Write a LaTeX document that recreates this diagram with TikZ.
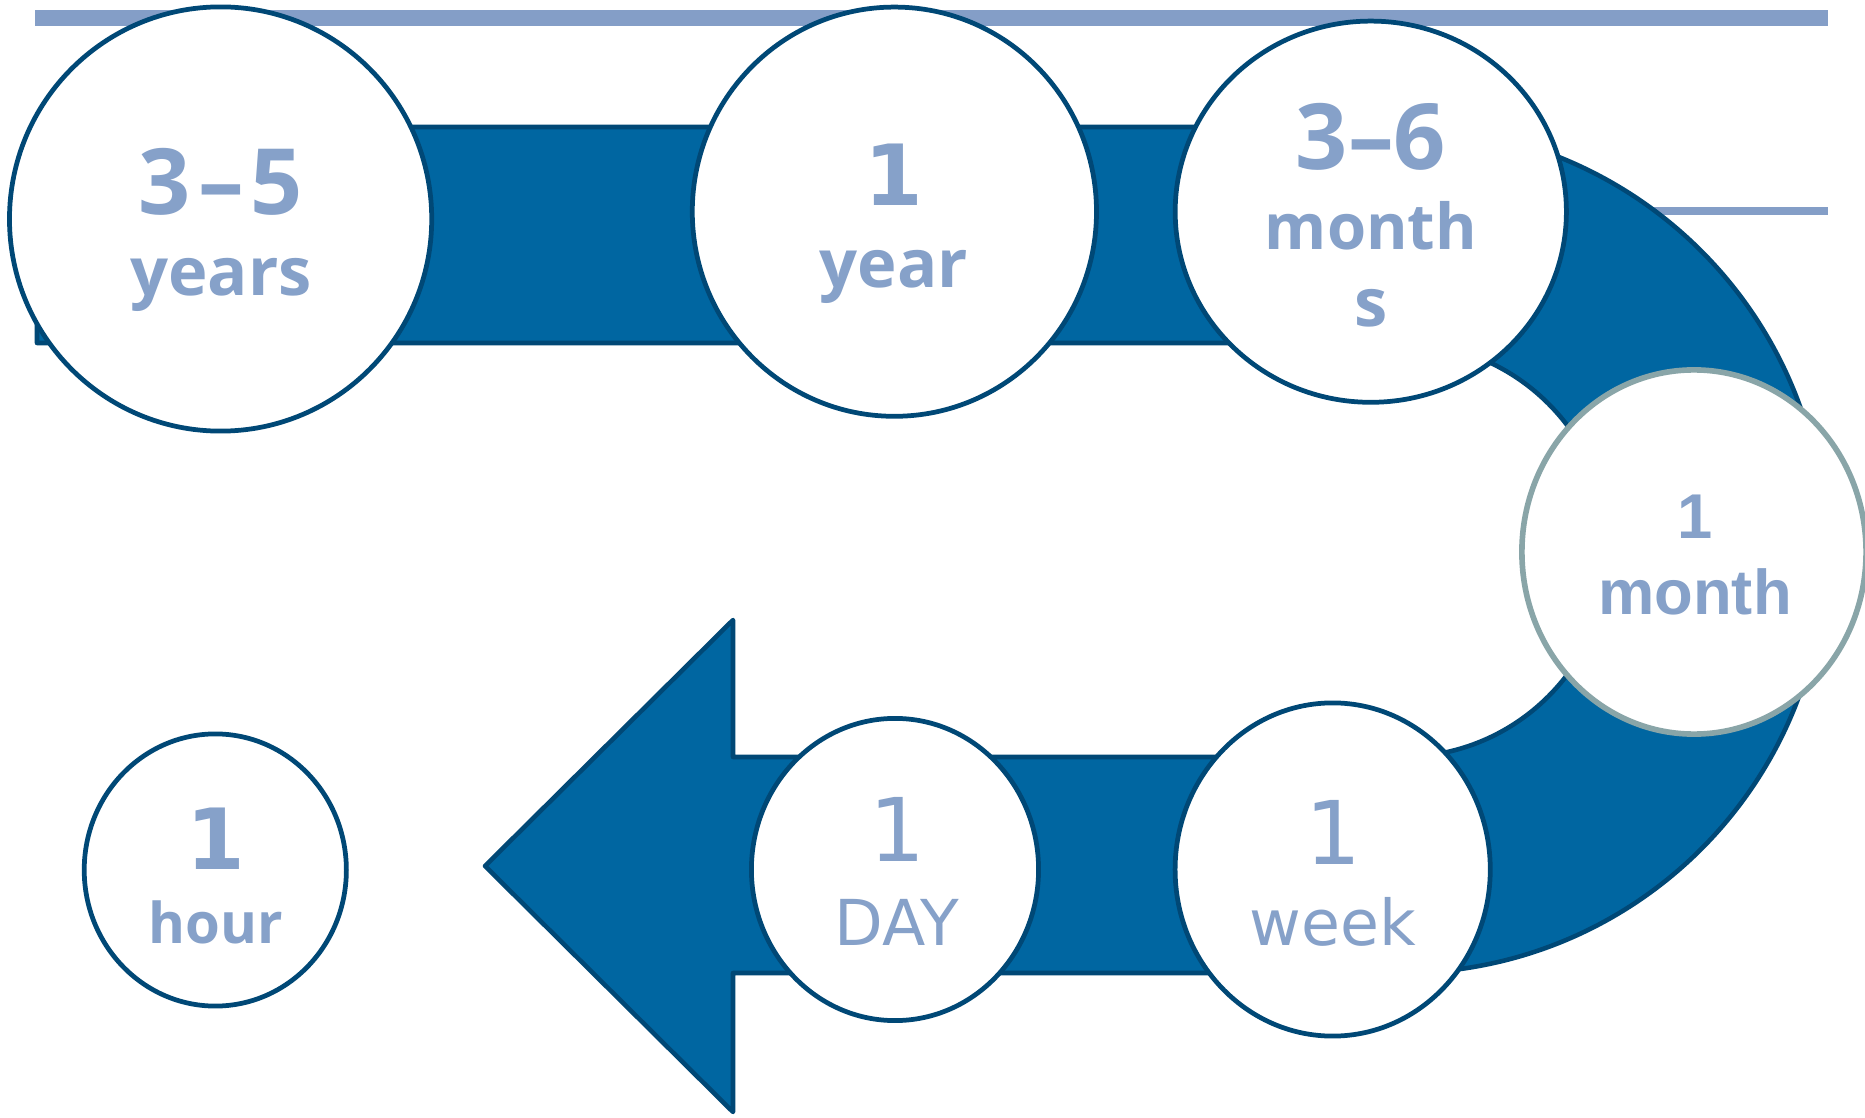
\documentclass[tikz,border=0pt]{standalone}
\usepackage{fontspec}
\usetikzlibrary{shapes.geometric}
\newfontfamily\osfont{Open Sans}
\newfontfamily\djfont{DejaVu Sans}
\newfontfamily\libfont{Liberation Sans}
\definecolor{bandfill}{RGB}{0,102,161}
\definecolor{bandline}{RGB}{0,72,118}
\definecolor{txtblue}{RGB}{134,161,201}
\definecolor{rulecol}{RGB}{132,158,199}
\definecolor{greyline}{RGB}{137,165,168}
\newcommand{\fsz}[1]{\fontsize{#1}{#1}\selectfont}
\begin{document}
\begin{tikzpicture}[x=0.01cm,y=0.01cm,
  disc/.style={ellipse, draw=bandline, line width=1.35pt, fill=white, inner sep=0pt},
  lbl/.style={anchor=base, inner sep=0pt, text=txtblue},
  band/.style={fill=bandfill, draw=bandline, line width=1.3pt, line join=round}]
\useasboundingbox (0,0) rectangle (1865,1117);
\fill[white] (0,0) rectangle (1865,1117);
% rules
\coordinate (r1a) at (35,1099); \coordinate (r1b) at (1828,1099);
\coordinate (r2a) at (1600,906); \coordinate (r2b) at (1828,906);
\draw[rulecol, line width=4.5pt] (r1a) -- (r1b);
\draw[rulecol, line width=2pt] (r2a) -- (r2b);
% U-turn arrow band
\draw[band] (37,990) -- (1402,990) arc[start angle=90, end angle=-90, radius=423]
  -- (733,144) -- (733,5) -- (485,251) -- (733,497) -- (733,360) -- (1402,360)
  arc[start angle=-90, end angle=90, radius=207] -- (37,774) -- cycle;
% discs
\node[disc, minimum width=4.22cm, minimum height=4.24cm] (c35) at (220.6,898) {};
\node[disc, minimum width=4.04cm, minimum height=4.09cm] (c1y) at (894.4,905.3) {};
\node[disc, minimum width=3.91cm, minimum height=3.81cm] (c36) at (1370.8,905.3) {};
\node[disc, draw=greyline, line width=1.6pt, minimum width=3.44cm, minimum height=3.64cm] (c1m) at (1694,565) {};
\node[disc, minimum width=3.15cm, minimum height=3.33cm] (c1w) at (1332.7,247.5) {};
\node[disc, minimum width=2.87cm, minimum height=3.02cm] (c1d) at (895,247.5) {};
\node[disc, minimum width=2.62cm, minimum height=2.72cm] (c1h) at (215.3,247) {};
% labels
\node[lbl, font=\osfont\bfseries\fsz{26pt}] (t35a) at (221,902) {3\kern2pt–\kern2pt5};
\node[lbl, font=\osfont\bfseries\fsz{19pt}] (t35b) at (221,821) {years};
\node[lbl, font=\djfont\bfseries\fsz{24pt}] (t1ya) at (894,911) {1};
\node[lbl, font=\osfont\bfseries\fsz{19pt}] (t1yb) at (894,829) {year};
\node[lbl, font=\osfont\bfseries\fsz{26pt}] (t36a) at (1371,947) {3–6};
\node[lbl, font=\osfont\bfseries\fsz{18pt}] (t36b) at (1371,867) {month};
\node[lbl, font=\osfont\bfseries\fsz{19pt}] (t36c) at (1371,790) {s};
\node[lbl, font=\libfont\bfseries\fsz{18pt}] (t1ma) at (1695,579) {1};
\node[lbl, font=\libfont\bfseries\fsz{18pt}] (t1mb) at (1695,502) {month};
\node[lbl, font=\djfont\fsz{25pt}] (t1wa) at (1333,252) {1};
\node[lbl, font=\djfont\fsz{18pt}] (t1wb) at (1333,171.4) {week};
\node[lbl, font=\djfont\fsz{25pt}] (t1da) at (897,255) {1};
\node[lbl, font=\djfont\fsz{18pt}] (t1db) at (897,171.4) {DAY};
\node[lbl, font=\djfont\bfseries\fsz{24pt}] (t1ha) at (216,247.5) {1};
\node[lbl, font=\osfont\bfseries\fsz{16pt}] (t1hb) at (216,174) {hour};
\end{tikzpicture}
\end{document}
